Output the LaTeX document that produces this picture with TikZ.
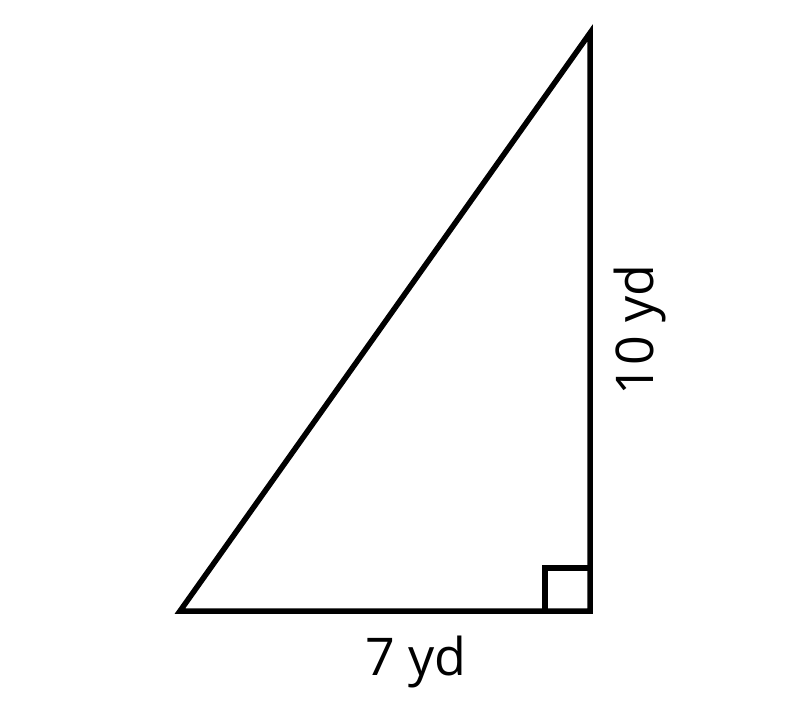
\documentclass[tikz,border=0pt]{standalone}
\usepackage{fontspec}
\setmainfont{Open Sans}
\usetikzlibrary{positioning}

\begin{document}
\begin{tikzpicture}[x=1pt, y=-1pt,
  side/.style={line width=5.5pt, line join=miter},
  lbl/.style={font=\fontsize{52}{60}\selectfont, inner sep=0pt},
]
  \useasboundingbox (0,0) rectangle (800,719);

  % triangle
  \coordinate (A) at (180,611);
  \coordinate (B) at (590,611);
  \coordinate (C) at (590,33);
  \draw[side] (A) -- (B) -- (C) -- cycle;

  % right angle mark
  \draw[side] (545,611) -- (545,568) -- (590,568);

  % labels
  \node[lbl, anchor=base] (base) at (416,675) {7 yd};
  \node[lbl, rotate=90] (height) at (640,330) {10 yd};
\end{tikzpicture}
\end{document}
